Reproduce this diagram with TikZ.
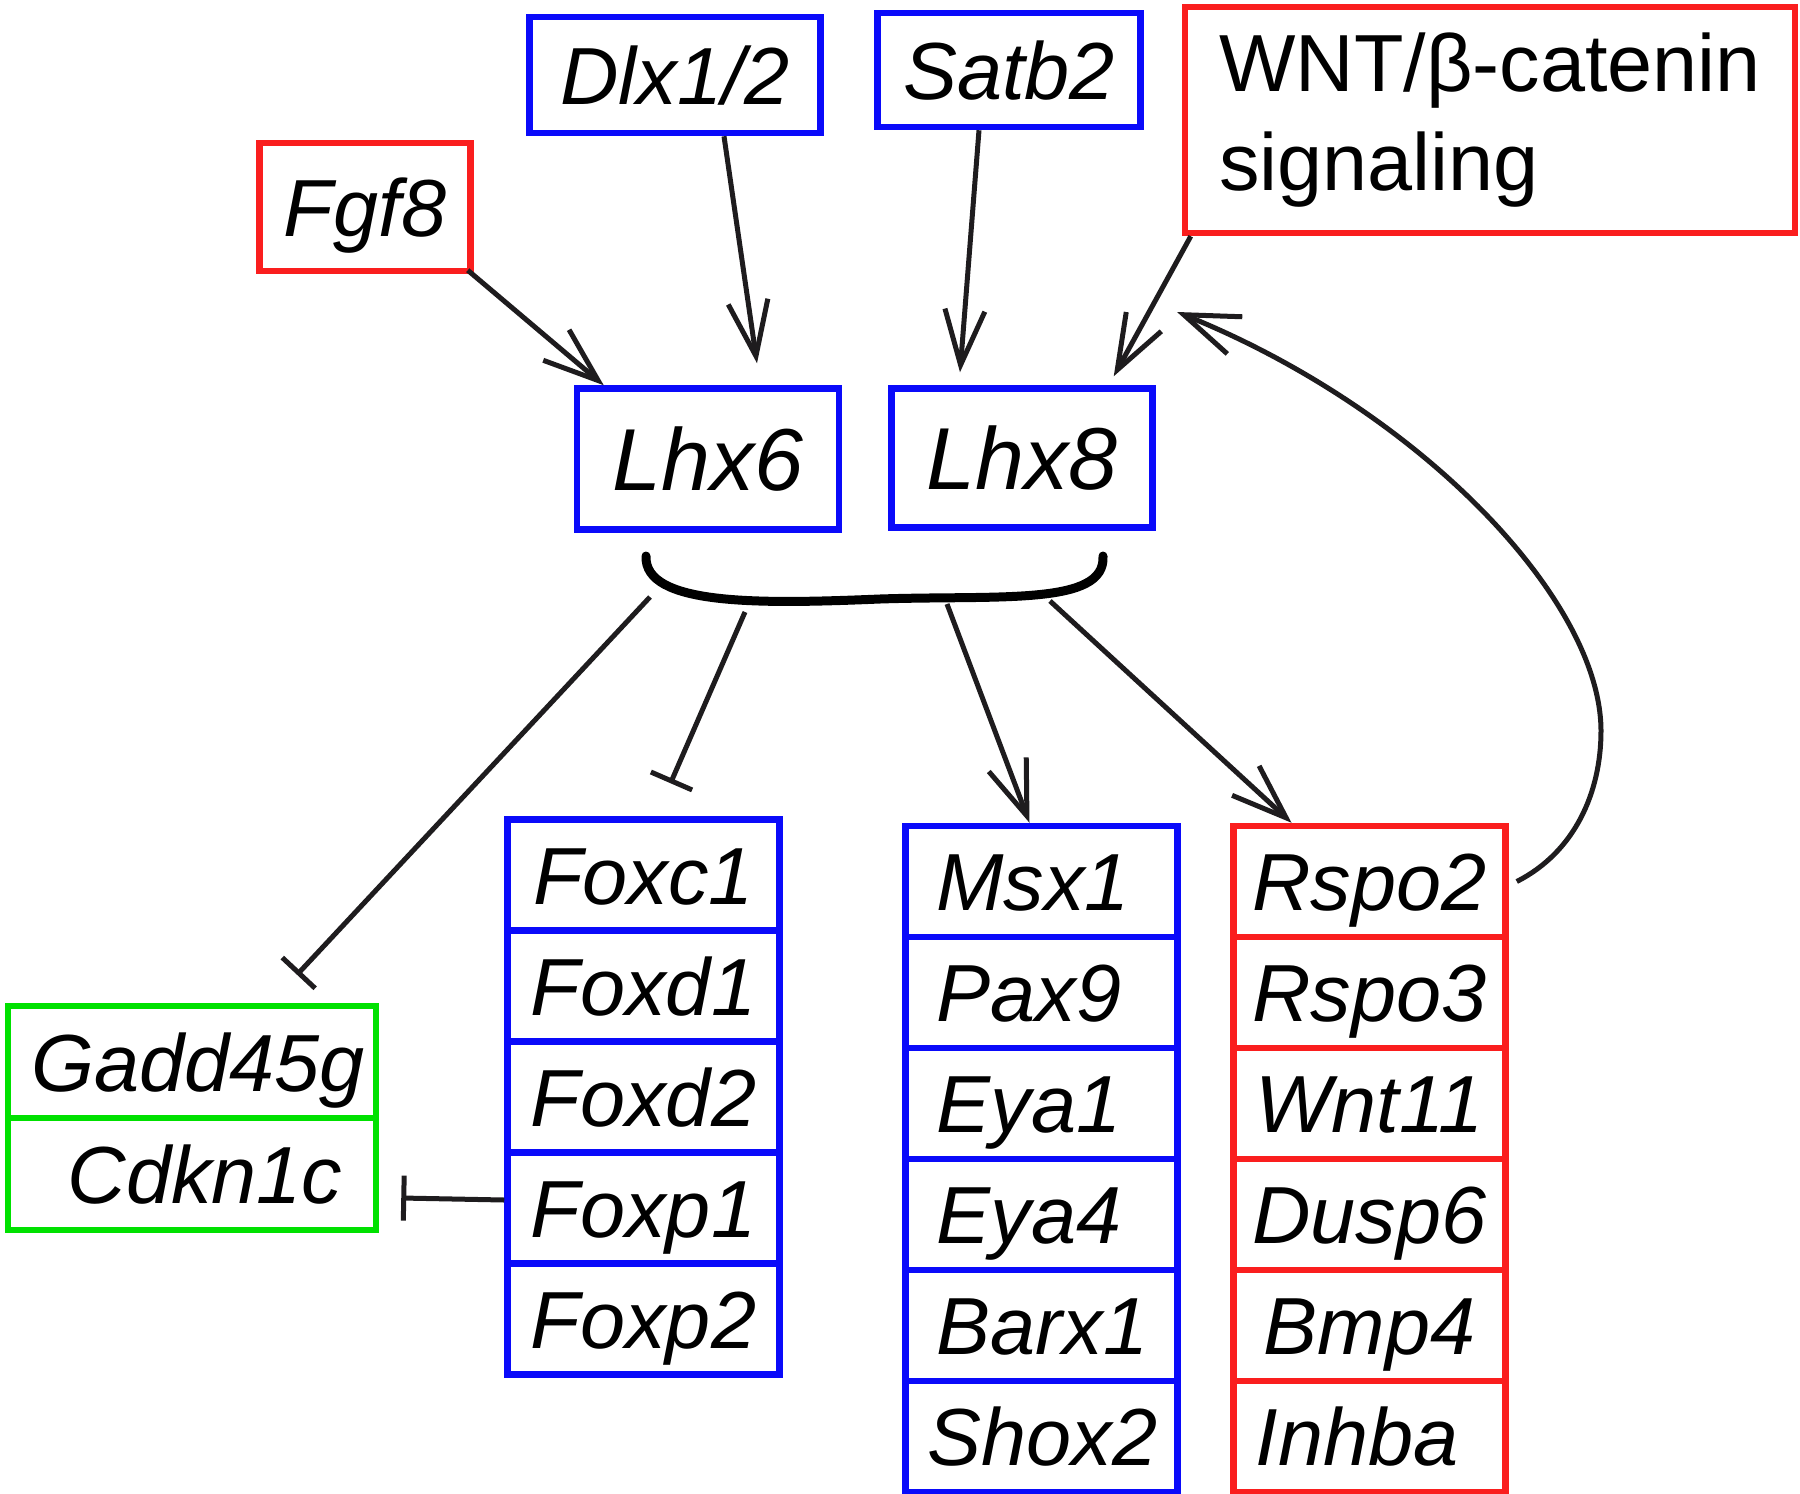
\documentclass[tikz,border=0pt]{standalone}
\usepackage{fontspec}
\setmainfont{Liberation Sans}
\usetikzlibrary{arrows.meta}
\definecolor{myblue}{RGB}{10,10,250}
\definecolor{myred}{RGB}{250,30,30}
\definecolor{mygreen}{RGB}{0,225,0}
\definecolor{linec}{RGB}{30,28,30}
\newcommand\genefont{\fontsize{81}{97}\selectfont\itshape}
\newcommand\lhxfont{\fontsize{88}{100}\selectfont\itshape}
\begin{document}
\begin{tikzpicture}[x=1pt,y=-1pt,
  bx/.style={draw, line width=6.5pt, inner sep=0pt, text height=58pt, text depth=0pt, font=\genefont},
  bluebox/.style={bx, draw=myblue},
  redbox/.style={bx, draw=myred},
  greenbox/.style={bx, draw=mygreen},
  lst/.style={minimum width=272pt, minimum height=111pt},
  lft/.style={text width=#1, align=left},
  act/.style={line width=5pt, draw=linec, -{Straight Barb[length=55pt,width=40pt]}},
  inh/.style={line width=5pt, draw=linec, -{Bar[width=45pt]}},
]
\useasboundingbox (0,0) rectangle (1800,1494);

% top nodes
\node[bluebox, minimum width=291pt, minimum height=116pt] (dlx) at (675,75) {Dlx1/2};
\node[bluebox, minimum width=263pt, minimum height=114pt] (satb) at (1009,70) {Satb2};
\node[draw=myred, line width=6.5pt, minimum width=610pt, minimum height=226pt, inner sep=0pt,
      align=left, font=\fontsize{81}{99}\selectfont] (wnt) at (1490,120) {WNT/β-catenin\\signaling};
\node[redbox, minimum width=211pt, minimum height=128pt] (fgf) at (365,207) {Fgf8};
\node[bluebox, font=\lhxfont, text height=63pt, minimum width=262pt, minimum height=141pt] (lhx6) at (708,459) {Lhx6};
\node[bluebox, font=\lhxfont, text height=63pt, minimum width=261pt, minimum height=139pt] (lhx8) at (1022,458) {Lhx8};

% green
\node[greenbox, minimum width=368pt, minimum height=112pt] (gadd) at (192,1062) {\hspace*{12pt}Gadd45g};
\node[greenbox, minimum width=368pt, minimum height=112pt] (cdkn) at (192,1174) {\hspace*{26pt}Cdkn1c};

% fox column
\node[bluebox, lst] (fox1) at (643.5,875) {Foxc1};
\node[bluebox, lst] (fox2) at (643.5,986) {Foxd1};
\node[bluebox, lst] (fox3) at (643.5,1097) {Foxd2};
\node[bluebox, lst] (fox4) at (643.5,1208) {Foxp1};
\node[bluebox, lst] (fox5) at (643.5,1319) {Foxp2};

% msx column
\node[bluebox, lst, lft=210pt] (msx1) at (1041.5,881.5) {Msx1};
\node[bluebox, lst, lft=210pt] (pax9) at (1041.5,992.5) {Pax9};
\node[bluebox, lst, lft=210pt] (eya1) at (1041.5,1103.5) {Eya1};
\node[bluebox, lst, lft=210pt] (eya4) at (1041.5,1214.5) {Eya4};
\node[bluebox, lst, lft=210pt] (barx) at (1041.5,1325.5) {Barx1};
\node[bluebox, lst, lft=228pt] (shox) at (1041.5,1436.5) {Shox2};

% rspo column
\node[redbox, lst] (rspo2) at (1369.5,881.5) {Rspo2};
\node[redbox, lst] (rspo3) at (1369.5,992.5) {Rspo3};
\node[redbox, lst] (wnt11) at (1369.5,1103.5) {Wnt11};
\node[redbox, lst] (dusp) at (1369.5,1214.5) {Dusp6};
\node[redbox, lst] (bmp) at (1369.5,1325.5) {Bmp4};
\node[redbox, lst, lft=228pt] (inhba) at (1369.5,1436.5) {Inhba};

% brace
\draw[line width=9pt, line cap=round, draw=black]
  (646,556) .. controls (644,606) and (760,604) .. (880,599)
  .. controls (1000,595) and (1106,606) .. (1103,556);
\coordinate (b1) at (650,597);
\coordinate (b2) at (745,612);
\coordinate (b3) at (947,604);
\coordinate (b4) at (1050,601);
\coordinate (fb) at (1177,312);

% upstream arrows
\draw[act] ([xshift=-6pt,yshift=4pt]fgf.south east) -- ([xshift=30pt]lhx6.north west);
\draw[act] ([xshift=49pt]dlx.south) -- ([xshift=49pt,yshift=22pt]lhx6.north);
\draw[act] ([xshift=-30pt]satb.south) -- ([xshift=-62pt,yshift=13pt]lhx8.north);
\draw[act] ([xshift=9pt]wnt.south west) -- ([xshift=-42pt,yshift=9pt]lhx8.north east);

% feedback
\draw[act] ([xshift=8pt]rspo2.east) .. controls (1575,852) and (1601,792) .. (1601,731)
  .. controls (1601,600) and (1420,410) .. (fb);

% downstream
\draw[inh] (b1) -- ([xshift=105pt,yshift=28pt]gadd.north);
\draw[inh] (b2) -- ([xshift=27pt,yshift=33pt]fox1.north);
\draw[act] (b3) -- ([xshift=-12pt]msx1.north);
\draw[act] (b4) -- ([xshift=-78pt]rspo2.north);
\draw[inh] ([yshift=8pt]fox4.west) -- ([xshift=22pt,yshift=-24pt]cdkn.east);
\end{tikzpicture}
\end{document}
